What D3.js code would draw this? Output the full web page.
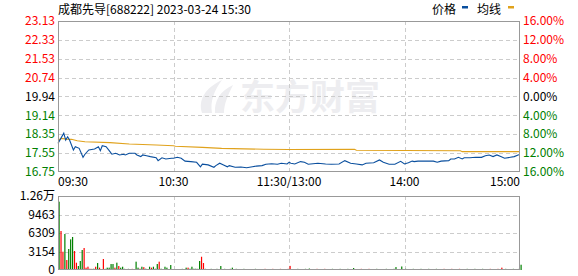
<!DOCTYPE html>
<html>
<head>
<meta charset="utf-8">
<script src="https://cdn.jsdelivr.net/npm/d3@7"></script>
<style>
  body { margin: 0; background: #fff; }
  text { font-family: "SimSun", "Noto Sans CJK SC", sans-serif; font-size: 12px; }
</style>
</head>
<body>
<div id="chart"></div>
<script>
// price axis (left) and change axis (right), top to bottom
var priceTicks = [23.13, 22.33, 21.53, 20.74, 19.94, 19.14, 18.35, 17.55, 16.75];
var pctLabels = ["16.00%", "12.00%", "8.00%", "4.00%", "0.00%", "4.00%", "8.00%", "12.00%", "16.00%"];
var prevClose = 19.94;

// time axis, minutes since 09:30 (lunch break collapsed)
var timeTicks = [0, 60, 120, 180, 240];
var timeLabels = ["09:30", "10:30", "11:30/13:00", "14:00", "15:00"];

// price line
var priceMin = [0, 3, 4, 5, 6, 8, 9, 11, 13, 14, 16, 19, 21, 22, 23, 25, 27, 28, 30, 32, 34, 35, 37, 40, 41, 43, 44, 46, 48,
  51, 52, 54, 56, 59, 60, 62, 64, 66, 69, 72, 74, 75, 78, 81, 82, 84, 86, 88, 89, 92, 95, 98, 101, 103, 106, 108, 111,
  114, 116, 119, 120, 121, 123, 126, 128, 130, 135, 139, 142, 146, 149, 152, 155, 158, 160, 164, 167, 169, 172, 175,
  178, 180, 182, 184, 185, 187, 190, 195, 197, 199, 203, 204, 206, 208, 210, 211, 214, 217, 220, 222, 224, 226, 228,
  230, 232, 235, 237, 239, 240];
var priceVal = [17.96, 18.39, 18.10, 18.24, 18.10, 17.68, 17.82, 17.75, 17.37, 17.50, 17.68, 17.72, 17.82, 17.65, 17.86,
  17.82, 17.61, 17.50, 17.54, 17.47, 17.50, 17.47, 17.54, 17.54, 17.47, 17.40, 17.47, 17.44, 17.40,
  17.35, 17.23, 17.35, 17.30, 17.33, 17.33, 17.37, 17.33, 17.21, 17.19, 17.16, 16.97, 17.08, 17.05, 16.95, 17.02, 17.12,
  17.05, 16.97, 17.02, 16.95, 16.96, 16.93, 16.97, 17.00, 17.02, 17.08, 17.10,
  17.08, 17.12, 17.09, 17.16, 17.12, 17.09, 17.19, 17.16, 17.08, 17.12, 17.09, 17.08, 17.09, 17.23, 17.12, 17.09, 17.05,
  17.12, 17.14, 17.26, 17.16, 17.08, 17.08,
  17.20, 17.09, 17.14, 17.21, 17.19, 17.21, 17.21, 17.21, 17.16, 17.21, 17.23, 17.30, 17.30, 17.37, 17.30, 17.35, 17.35,
  17.37, 17.37, 17.44, 17.47, 17.40, 17.47,
  17.40, 17.33, 17.37, 17.40, 17.47, 17.49];

// average price line
var avgMin = [0, 2, 4, 7, 10, 14, 27, 37, 51, 60, 61, 75, 85, 107, 120, 154, 155, 180, 209, 210, 240];
var avgVal = [18.10, 18.17, 18.14, 18.13, 18.07, 18.03, 17.99, 17.93, 17.89, 17.86, 17.84, 17.79, 17.75, 17.71, 17.70,
  17.71, 17.67, 17.66, 17.65, 17.61, 17.61];

// volume per minute and direction (r = up, g = down)
var volume = [
  11650, 6650, 3120, 6140, 1700, 3580, 5230, 5630, 3240, 1245,
  680, 1535, 3410, 3750, 400, 570, 220, 200, 220, 560,
  1190, 400, 150, 1875, 200, 400, 400, 1020, 1020, 400,
  1250, 680, 400, 560, 200, 170, 200, 170, 200, 170,
  1420, 400, 220, 560, 480, 220, 150, 560, 400, 560,
  220, 1020, 1420, 220, 150, 560, 400, 150, 850, 170,
  170, 150, 170, 150, 200, 170, 400, 400, 220, 560,
  220, 220, 200, 1535, 2260, 1190, 200, 170, 170, 200,
  170, 170, 200, 170, 680, 170, 200, 170, 170, 200,
  400, 170, 200, 170, 150, 170, 200, 170, 150, 170,
  170, 150, 200, 170, 170, 150, 170, 200, 170, 150,
  170, 200, 170, 150, 170, 200, 170, 150, 170, 200,
  700,
  170, 150, 170, 200, 170, 150, 170, 200, 170, 250,
  170, 150, 170, 200, 170, 150, 170, 200, 170, 150,
  170, 200, 170, 150, 170, 200, 170, 150, 170, 200,
  170, 170, 340, 170, 150, 170, 200, 170, 150, 170,
  200, 170, 170, 150, 200, 170, 170, 150, 170, 200,
  170, 150, 170, 200, 500, 170, 150, 600, 170, 200,
  170, 150, 170, 200, 170, 150, 170, 200, 170, 150,
  170, 200, 170, 150, 170, 200, 170, 150, 170, 200,
  170, 150, 170, 200, 170, 150, 170, 200, 170, 150,
  170, 200, 170, 150, 170, 200, 170, 150, 170, 200,
  170, 150, 170, 200, 170, 150, 170, 200, 170, 400,
  170, 200, 170, 150, 170, 200, 170, 150, 200, 900
];
var volDir =
  "grrgrgggrr" + "gggrrrrrgr" + "grgrgggggr" + "grgggrggrg" + "ggrgrgggrg" + "ggrggggggr" +
  "rrrrgrgrgg" + "ggggrrgggg" + "grgggrgrgg" + "gggggggggg" + "gggggrrrrr" + "rrrrrrrrrr" + "r" +
  "gggggggggg" + "rrrrrrrrrr" + "rggggggggg" + "ggggrrrrrr" + "rrrggggggg" + "gggggrrggg" +
  "gggggggggg" + "gggggggrrr" + "rrrrrrrrrg" + "gggggggggg" + "rrrrrrrrrr" + "rggggggggg" + "rrrr";
var volTicks = [0, 3154, 6309, 9463, 12618];
var volLabels = ["0", "3154", "6309", "9463", "1.26万"];

var width = 578, height = 276;
var red = "#ff0000", green = "#008000", grid = "#cccccc", frame = "#999999";
var lineBlue = "#0a4f9e", lineGold = "#e0a21c";

var svg = d3.select("#chart").append("svg")
  .attr("width", width)
  .attr("height", height);

var x = d3.scaleLinear().domain([0, 240]).range([58, 520]);
var y = d3.scaleLinear().domain([16.75, 23.13]).range([172, 21]);
var yv = d3.scaleLinear().domain([0, 12618]).range([270, 196]);

// watermark
var wm = svg.append("g").attr("fill", "#ededf0");
wm.append("path").attr("d", "M202,113 C198,100 205,88 222,80 C214,91 210,101 212,113 Z");
wm.append("path").attr("d", "M215,113 C214,101 220,91 233,85 C228,95 224,104 224,113 Z");
wm.append("text")
  .attr("x", 240).attr("y", 110)
  .style("font-size", "35px").style("font-weight", "bold")
  .style("font-family", "'Noto Sans CJK SC', sans-serif")
  .text("东方财富");

// gridlines
var gridG = svg.append("g").attr("stroke", grid).attr("stroke-dasharray", "4,3").attr("shape-rendering", "crispEdges");
gridG.selectAll(".hp").data(priceTicks.slice(1, -1)).enter().append("line")
  .attr("x1", 58).attr("x2", 520)
  .attr("y1", d => Math.round(y(d)) + 0.5).attr("y2", d => Math.round(y(d)) + 0.5);
gridG.selectAll(".hv").data(volTicks.slice(1, -1)).enter().append("line")
  .attr("x1", 58).attr("x2", 520)
  .attr("y1", d => Math.round(yv(d)) + 0.5).attr("y2", d => Math.round(yv(d)) + 0.5);
gridG.selectAll(".vp").data(timeTicks.slice(1, -1)).enter().append("line")
  .attr("x1", d => Math.round(x(d)) + 0.5).attr("x2", d => Math.round(x(d)) + 0.5)
  .attr("y1", 21).attr("y2", 172);
gridG.selectAll(".vv").data(timeTicks.slice(1, -1)).enter().append("line")
  .attr("x1", d => Math.round(x(d)) + 0.5).attr("x2", d => Math.round(x(d)) + 0.5)
  .attr("y1", 196).attr("y2", 270);

// volume bars
svg.append("g").selectAll("rect").data(volume).enter().append("rect")
  .attr("x", (d, i) => x(i) + 0.5)
  .attr("width", 1.2)
  .attr("y", d => yv(d))
  .attr("height", d => 270 - yv(d))
  .attr("fill", (d, i) => volDir[i] === "r" ? red : green);

// average and price lines
var minuteLine = d3.line().x(d => x(d[0])).y(d => y(d[1]));
svg.append("path")
  .datum(d3.zip(avgMin, avgVal))
  .attr("fill", "none").attr("stroke", lineGold).attr("stroke-width", 1.1)
  .attr("d", minuteLine);
svg.append("path")
  .datum(d3.zip(priceMin, priceVal))
  .attr("fill", "none").attr("stroke", lineBlue).attr("stroke-width", 1.1)
  .attr("d", minuteLine);

// frames
svg.append("rect").attr("x", 58.5).attr("y", 21.5).attr("width", 461).attr("height", 150)
  .attr("fill", "none").attr("stroke", frame);
svg.append("rect").attr("x", 58.5).attr("y", 196.5).attr("width", 461).attr("height", 73)
  .attr("fill", "none").attr("stroke", frame);

// axis labels
function tickColor(i) { return i < 4 ? red : (i === 4 ? "#000" : green); }
svg.append("g").selectAll("text").data(priceTicks).enter().append("text")
  .attr("x", 55).attr("y", d => y(d)).attr("dy", "0.36em")
  .attr("text-anchor", "end")
  .attr("fill", (d, i) => tickColor(i))
  .text(d => d.toFixed(2));
svg.append("g").selectAll("text").data(pctLabels).enter().append("text")
  .attr("x", 523).attr("y", (d, i) => y(priceTicks[i])).attr("dy", "0.36em")
  .attr("fill", (d, i) => tickColor(i))
  .text(d => d);
svg.append("g").selectAll("text").data(timeTicks).enter().append("text")
  .attr("x", d => x(d)).attr("y", 186)
  .attr("text-anchor", (d, i) => i === 0 ? "start" : (i === timeTicks.length - 1 ? "end" : "middle"))
  .attr("fill", "#000")
  .text((d, i) => timeLabels[i]);
svg.append("g").selectAll("text").data(volTicks).enter().append("text")
  .attr("x", 55).attr("y", d => yv(d)).attr("dy", "0.36em")
  .attr("text-anchor", "end")
  .attr("fill", "#000")
  .text((d, i) => volLabels[i]);

// title and legend
svg.append("text").attr("x", 58).attr("y", 14).attr("fill", "#000")
  .text("成都先导[688222] 2023-03-24 15:30");
var legend = [
  { label: "价格", color: lineBlue, tx: 432, rx: 462 },
  { label: "均线", color: lineGold, tx: 477, rx: 508 }
];
legend.forEach(function (item) {
  svg.append("text").attr("x", item.tx).attr("y", 14).attr("fill", "#000").text(item.label);
  svg.append("rect").attr("x", item.rx).attr("y", 6).attr("width", 6).attr("height", 2.5)
    .attr("fill", item.color);
});
</script>
</body>
</html>
